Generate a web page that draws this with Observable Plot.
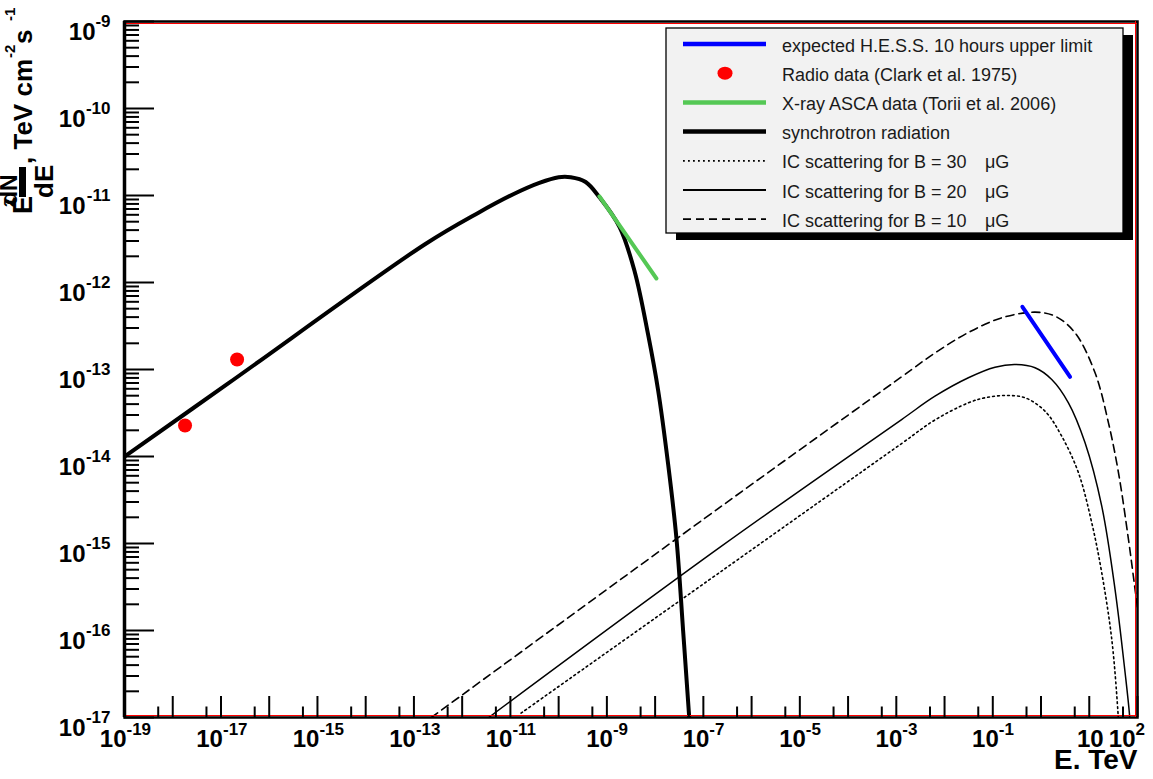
<!DOCTYPE html>
<html><head><meta charset="utf-8">
<script src="https://cdn.jsdelivr.net/npm/d3@7"></script>
<script src="https://cdn.jsdelivr.net/npm/@observablehq/plot@0.6"></script>
<style>
body{margin:0;background:#fff;}
#wrap{position:relative;width:1153px;height:779px;font-family:"Liberation Sans",Arial,sans-serif;}
#wrap svg{position:absolute;left:0;top:0;}
</style></head><body><div id="wrap"></div>
<script>
// ---- data (log10 values) ----
const syncLogE = [-19, -16.85, -12.77, -11.67, -10.92, -10.4, -10.0, -9.75, -9.44, -9.149, -8.734, -8.423, -8.145, -7.938, -7.730, -7.558, -7.419, -7.295, -7.2];
const syncLogF = [-14, -13.16, -11.56, -11.20, -10.98, -10.855, -10.79, -10.79, -10.845, -11.024, -11.366, -11.876, -12.600, -13.238, -14.090, -14.941, -16.006, -16.985, -17.75];

const ic10LogE = [-12.64, -6.624, -2.890, -2.199, -1.506, -0.815, -0.124, 0.290, 0.705, 1.120, 1.398, 1.606, 1.813, 1.950, 2.05];
const ic10LogF = [-17.0, -14.571, -13.084, -12.81, -12.575, -12.406, -12.341, -12.387, -12.578, -13.038, -13.613, -14.187, -14.954, -15.529, -15.95];

const ic20LogE = [-11.45, -6.624, -2.890, -2.199, -1.506, -0.954, -0.539, -0.124, 0.222, 0.568, 0.913, 1.259, 1.535, 1.743, 1.834, 1.87];
const ic20LogF = [-17.0, -15.031, -13.575, -13.307, -13.095, -12.974, -12.943, -12.980, -13.115, -13.383, -13.843, -14.571, -15.529, -16.486, -16.966, -17.3];

const ic30LogE = [-10.78, -6.624, -2.890, -2.199, -1.506, -1.162, -0.747, -0.332, 0.083, 0.429, 0.776, 1.052, 1.259, 1.467, 1.591, 1.62];
const ic30LogF = [-16.95, -15.318, -13.851, -13.58, -13.383, -13.325, -13.299, -13.325, -13.479, -13.767, -14.187, -14.762, -15.337, -16.103, -16.908, -17.2];

const xrayLogE = [-9.155, -7.973];
const xrayLogF = [-11.01, -11.954];

const hessLogE = [-0.386, 0.602];
const hessLogF = [-12.279, -13.084];

const radioLogE = [-17.745, -16.666];
const radioLogF = [-13.644, -12.885];

// tick label exponents
const xLab3 = [-19, -17, -15, -13, -11];
const xLab2 = [-9, -7, -5, -3, -1];
const xLabPlain = [1];
const xLabLast = [2];
const yLab3 = [-10, -11, -12, -13, -14, -15, -16, -17];
const yLab2 = [-9];

const legendLabels = [
  "expected H.E.S.S. 10 hours upper limit",
  "Radio data (Clark et al. 1975)",
  "X-ray ASCA data (Torii et al. 2006)",
  "synchrotron radiation",
  "IC scattering for B = 30",
  "IC scattering for B = 20",
  "IC scattering for B = 10"
];
const legendUnits = ["", "", "", "", "\u03bcG", "\u03bcG", "\u03bcG"];

// ---- build ----
const pts = (le, lf) => le.map((e, i) => ({E: 10 ** e, F: 10 ** lf[i]}));
const sync = pts(syncLogE, syncLogF);
const ic10 = pts(ic10LogE, ic10LogF);
const ic20 = pts(ic20LogE, ic20LogF);
const ic30 = pts(ic30LogE, ic30LogF);
const xray = pts(xrayLogE, xrayLogF);
const hess = pts(hessLogE, hessLogF);
const radio = pts(radioLogE, radioLogF);

const xMajor = d3.range(-19, 3).map(k => 10 ** k);
const xMinor = d3.range(-19, 2).map(k => 5 * 10 ** k);
const yMajor = d3.range(-17, -8).map(k => 10 ** k);
const yMinor = d3.range(-17, -9).flatMap(k => [2,3,4,5,6,7,8,9].map(m => m * 10 ** k));

const FONT = "Liberation Sans, Arial, sans-serif";
const big = {fontFamily: FONT, fontWeight: "bold", fontSize: 24, fill: "black", lineAnchor: "bottom"};
const sup = {fontFamily: FONT, fontWeight: "bold", fontSize: 17, fill: "black", lineAnchor: "bottom"};
const expTxt = d => (d < 0 ? "-" : "") + Math.abs(d);

const W = 1153, H = 779, mL = 124, mR = 16, mT = 21, mB = 62;
const fw = W - mL - mR, fh = H - mT - mB;
const CURVE = "catmull-rom";

const plot = Plot.plot({
  width: W, height: H,
  marginLeft: mL, marginRight: mR, marginTop: mT, marginBottom: mB,
  style: {fontFamily: FONT, background: "white", overflow: "visible"},
  x: {type: "log", domain: [1e-19, 1e2], axis: null},
  y: {type: "log", domain: [1e-17, 1e-9], axis: null},
  marks: [
    Plot.line(ic30, {x: "E", y: "F", stroke: "black", strokeWidth: 1.6, strokeDasharray: "1.8,3.2", curve: CURVE, clip: true}),
    Plot.line(ic20, {x: "E", y: "F", stroke: "black", strokeWidth: 1.5, curve: CURVE, clip: true}),
    Plot.line(ic10, {x: "E", y: "F", stroke: "black", strokeWidth: 1.6, strokeDasharray: "8,5", curve: CURVE, clip: true}),
    Plot.line(sync, {x: "E", y: "F", stroke: "black", strokeWidth: 4, curve: CURVE, clip: true}),
    Plot.line(xray, {x: "E", y: "F", stroke: "#55c855", strokeWidth: 4}),
    Plot.line(hess, {x: "E", y: "F", stroke: "#0000ff", strokeWidth: 4}),
    Plot.dot(radio, {x: "E", y: "F", r: 7, fill: "#ff0000"}),
    // frame: black outline, red inner line on top/right/bottom, thick left axis
    Plot.frame({stroke: "black", strokeWidth: 2.5}),
    Plot.ruleY([1e-9], {stroke: "#ff0000", strokeWidth: 1, dy: 2}),
    Plot.ruleY([1e-17], {stroke: "#ff0000", strokeWidth: 1.2, dy: -2}),
    Plot.ruleX([1e2], {stroke: "#ff0000", strokeWidth: 1, dx: -2}),
    Plot.ruleX([1e-19], {stroke: "black", strokeWidth: 3.5}),
    // ticks (inward)
    Plot.tickX(xMajor, {x: d => d, insetTop: fh - 21, stroke: "black", strokeWidth: 2}),
    Plot.tickX(xMinor, {x: d => d, insetTop: fh - 10.5, stroke: "black", strokeWidth: 2}),
    Plot.tickY(yMajor, {y: d => d, insetRight: fw - 30, stroke: "black", strokeWidth: 2}),
    Plot.tickY(yMinor, {y: d => d, insetRight: fw - 15, stroke: "black", strokeWidth: 2}),
    // x tick labels
    Plot.text(xLab3, {...big, x: d => 10 ** d, text: () => "10", frameAnchor: "bottom", dy: 29, dx: 2, textAnchor: "end"}),
    Plot.text(xLab3, {...sup, x: d => 10 ** d, text: expTxt, frameAnchor: "bottom", dy: 17, dx: 2, textAnchor: "start"}),
    Plot.text(xLab2, {...big, x: d => 10 ** d, text: () => "10", frameAnchor: "bottom", dy: 29, dx: 6, textAnchor: "end"}),
    Plot.text(xLab2, {...sup, x: d => 10 ** d, text: expTxt, frameAnchor: "bottom", dy: 17, dx: 6, textAnchor: "start"}),
    Plot.text(xLabPlain, {...big, x: d => 10 ** d, text: () => "10", frameAnchor: "bottom", dy: 29, dx: 1, textAnchor: "middle"}),
    Plot.text(xLabLast, {...big, x: d => 10 ** d, text: () => "10", frameAnchor: "bottom", dy: 29, dx: -2, textAnchor: "end"}),
    Plot.text(xLabLast, {...sup, x: d => 10 ** d, text: expTxt, frameAnchor: "bottom", dy: 17, dx: -2, textAnchor: "start"}),
    // y tick labels
    Plot.text(yLab3, {...big, y: d => 10 ** d, text: () => "10", frameAnchor: "left", dx: -39, dy: 18, textAnchor: "end"}),
    Plot.text(yLab3, {...sup, y: d => 10 ** d, text: expTxt, frameAnchor: "left", dx: -14, dy: 5, textAnchor: "end"}),
    Plot.text(yLab2, {...big, y: d => 10 ** d, text: () => "10", frameAnchor: "left", dx: -29, dy: 18, textAnchor: "end"}),
    Plot.text(yLab2, {...sup, y: d => 10 ** d, text: expTxt, frameAnchor: "left", dx: -14, dy: 5, textAnchor: "end"}),
    // x title
    Plot.text(["E. TeV"], {text: d => d, frameAnchor: "bottom-right", dy: 51, textAnchor: "end", lineAnchor: "bottom", fontFamily: FONT, fontWeight: "bold", fontSize: 28, fill: "black"})
  ]
});
const wrap = document.getElementById("wrap");
wrap.appendChild(plot);

// ---- overlay: y title and legend ----
const ov = d3.select(wrap).append("svg").attr("width", W).attr("height", H)
  .style("pointer-events", "none").attr("font-family", FONT);

const yt = ov.append("g").attr("font-weight", "bold").attr("fill", "black");
const rot = (t, x, y, size) => yt.append("text").attr("transform", `translate(${x},${y}) rotate(-90)`).attr("font-size", size).text(t);
rot("E", 32, 214, 27);
rot("dN", 17, 205, 23);
rot("2", 14, 207, 15);
yt.append("rect").attr("x", 19).attr("y", 167).attr("width", 7).attr("height", 30);
rot("dE", 53, 198, 26);
rot(", TeV cm", 32, 164, 26);
rot("-2", 15, 58, 15);
rot("s", 32, 44, 26);
rot("-1", 15, 21, 15);

const lg = ov.append("g");
lg.append("rect").attr("x", 676).attr("y", 35).attr("width", 457).attr("height", 205).attr("fill", "black");
lg.append("rect").attr("x", 666).attr("y", 28).attr("width", 457).attr("height", 205).attr("fill", "#f2f2f2").attr("stroke", "black").attr("stroke-width", 1.3);
const rowY = i => 44 + 29.2 * i;
const styles = [
  {stroke: "#0000ff", w: 4.5},
  null,
  {stroke: "#55c855", w: 4.5},
  {stroke: "black", w: 4.5},
  {stroke: "black", w: 1.8, dash: "1.8,3.2"},
  {stroke: "black", w: 1.8},
  {stroke: "black", w: 1.8, dash: "8,5"}
];
legendLabels.forEach((lab, i) => {
  const y = rowY(i);
  const s = styles[i];
  if (s) {
    lg.append("line").attr("x1", 683).attr("x2", 766).attr("y1", y).attr("y2", y)
      .attr("stroke", s.stroke).attr("stroke-width", s.w).attr("stroke-dasharray", s.dash || null);
  } else {
    lg.append("ellipse").attr("cx", 725).attr("cy", y).attr("rx", 7.5).attr("ry", 6.5).attr("fill", "#ff0000");
  }
  lg.append("text").attr("x", 782).attr("y", y + 7.5).attr("font-size", 18).attr("fill", "#1a1a1a").text(lab);
  if (legendUnits[i]) lg.append("text").attr("x", 985).attr("y", y + 7.5).attr("font-size", 18).attr("fill", "#1a1a1a").text(legendUnits[i]);
});
</script></body></html>
